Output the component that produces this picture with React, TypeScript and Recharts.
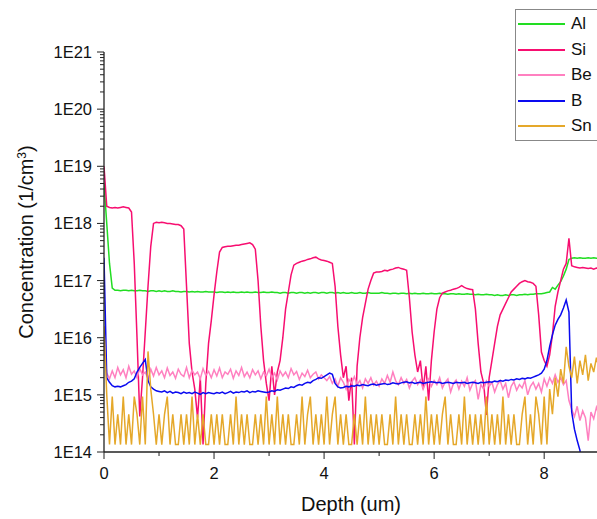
import { LineChart, Line, XAxis, YAxis } from "recharts";

// SIMS depth profile, values are log10(concentration), one point every 0.05 um
const STEP = 0.05;

const alLog = [
  18.7, 18.0, 17.3, 16.87, 16.83, 16.83, 16.82, 16.83, 16.83, 16.82, 16.83, 16.82, 16.82, 16.83, 16.82, 16.82, 16.81, 16.82, 16.82, 16.81,
  16.82, 16.81, 16.82, 16.81, 16.81, 16.82, 16.81, 16.81, 16.8, 16.81, 16.81, 16.8, 16.81, 16.8, 16.81, 16.8, 16.8, 16.81, 16.8, 16.8,
  16.8, 16.79, 16.8, 16.8, 16.79, 16.8, 16.79, 16.8, 16.79, 16.79, 16.8, 16.79, 16.8, 16.79, 16.79, 16.8, 16.79, 16.79, 16.8, 16.79,
  16.79, 16.8, 16.79, 16.79, 16.78, 16.79, 16.79, 16.78, 16.79, 16.79, 16.78, 16.79, 16.79, 16.78, 16.79, 16.78, 16.79, 16.79, 16.78, 16.79,
  16.79, 16.78, 16.79, 16.79, 16.78, 16.79, 16.78, 16.79, 16.78, 16.78, 16.79, 16.78, 16.78, 16.79, 16.78, 16.78, 16.79, 16.78, 16.78, 16.78,
  16.78, 16.79, 16.78, 16.78, 16.77, 16.78, 16.78, 16.77, 16.78, 16.78, 16.77, 16.78, 16.77, 16.78, 16.77, 16.77, 16.78, 16.77, 16.77, 16.78,
  16.77, 16.77, 16.78, 16.77, 16.77, 16.76, 16.77, 16.77, 16.76, 16.77, 16.76, 16.76, 16.77, 16.76, 16.76, 16.75, 16.76, 16.75, 16.75, 16.76,
  16.75, 16.75, 16.74, 16.75, 16.74, 16.74, 16.75, 16.74, 16.75, 16.75, 16.74, 16.75, 16.75, 16.76, 16.75, 16.76, 16.76, 16.77, 16.77, 16.77,
  16.78, 16.79, 16.8, 16.88, 16.85, 16.92, 16.98, 17.08, 17.2, 17.37, 17.39, 17.4, 17.39, 17.4, 17.39, 17.39, 17.4, 17.39, 17.4, 17.39, 17.39,
];

const siLog = [
  19.0, 18.3, 18.28, 18.27, 18.28, 18.27, 18.28, 18.29, 18.28, 18.27, 18.2, 17.3, 16.0, 14.62, 15.3, 16.1, 16.9, 17.6, 18.0, 18.02,
  18.01, 18.02, 18.01, 18.0, 18.0, 17.99, 17.98, 17.98, 17.96, 17.9, 16.9, 15.9, 15.4, 15.1, 14.6, 15.3, 14.13, 15.2, 15.9, 16.3,
  16.75, 17.15, 17.5, 17.58, 17.59, 17.6, 17.6, 17.61, 17.62, 17.62, 17.63, 17.64, 17.65, 17.66, 17.63, 17.55, 17.0, 16.2, 15.6, 15.2,
  14.9, 15.5, 15.0, 15.4, 15.6, 16.0, 16.5, 16.8, 17.1, 17.27, 17.3, 17.32, 17.34, 17.35, 17.37, 17.38, 17.4, 17.41, 17.38, 17.36,
  17.35, 17.34, 17.32, 17.3, 16.9, 16.2, 15.7, 15.3, 15.5, 14.9, 15.3, 14.13, 15.5, 16.0, 16.35, 16.6, 16.85, 17.0, 17.13, 17.15,
  17.15, 17.16, 17.18, 17.17, 17.19, 17.2, 17.22, 17.23, 17.21, 17.2, 17.18, 16.7, 16.1, 15.7, 15.4, 15.6, 15.1, 15.5, 14.9, 15.6,
  16.1, 16.5, 16.7, 16.78, 16.8, 16.82, 16.83, 16.85, 16.86, 16.88, 16.91, 16.88, 16.86, 16.85, 16.84, 16.5, 15.9, 15.4, 15.2, 14.65,
  15.3, 15.6, 15.9, 16.2, 16.4, 16.5, 16.6, 16.7, 16.8, 16.85, 16.9, 16.95, 16.98, 17.0, 16.98, 16.97, 16.95, 16.9, 16.4, 15.75,
  15.6, 15.5, 15.7, 16.05, 16.55, 16.8, 17.0, 17.2, 17.3, 17.74, 17.26, 17.24, 17.23, 17.22, 17.23, 17.22, 17.21, 17.22, 17.2, 17.22, 17.21,
];

const beLog = [
  15.84, 15.38, 15.28, 15.42, 15.3, 15.48, 15.35, 15.44, 15.3, 15.5, 15.36, 15.42, 15.3, 15.46, 15.35, 15.4, 15.28, 15.45, 15.33, 15.48,
  15.35, 15.42, 15.3, 15.47, 15.34, 15.4, 15.29, 15.45, 15.36, 15.32, 15.48, 15.3, 15.43, 15.35, 15.4, 15.28, 15.46, 15.34, 15.41, 15.3,
  15.44, 15.33, 15.47, 15.3, 15.4, 15.36, 15.45, 15.29, 15.42, 15.34, 15.48, 15.32, 15.4, 15.3, 15.44, 15.35, 15.42, 15.28, 15.4, 15.33,
  15.45, 15.3, 15.38, 15.26, 15.42, 15.33, 15.4, 15.3, 15.46, 15.35, 15.41, 15.27, 15.38, 15.32, 15.43, 15.3, 15.36, 15.4, 15.28, 15.35,
  15.3, 15.25, 15.32, 15.2, 15.28, 15.15, 15.3, 15.22, 15.1, 15.27, 15.2, 15.32, 15.18, 15.25, 15.12, 15.28, 15.2, 15.3, 15.17, 15.24,
  15.15, 15.28, 15.2, 15.34, 15.22, 15.4, 15.25, 15.18, 15.3, 15.2, 15.27, 15.12, 15.24, 15.3, 15.18, 15.26, 15.1, 15.22, 15.28, 15.15,
  15.25, 15.18, 15.3, 15.12, 15.22, 15.28, 15.05, 15.2, 15.26, 15.1, 15.24, 15.15, 15.3, 15.08, 15.2, 15.25, 14.92, 15.18, 15.1, 15.24,
  15.15, 15.22, 15.05, 15.18, 15.25, 15.1, 15.2, 14.95, 15.15, 15.23, 15.08, 15.18, 15.12, 15.25, 15.0, 15.15, 15.22, 15.1, 15.2, 15.05,
  15.28, 15.15, 15.3, 15.2, 15.35, 15.22, 15.3, 15.18, 15.25, 14.9, 14.75, 14.62, 14.8, 14.55, 14.72, 14.6, 14.2, 14.7, 14.58, 14.78, 14.65,
];

const bLog = [
  17.4, 15.3, 15.22, 15.16, 15.14, 15.15, 15.14, 15.16, 15.18, 15.22, 15.24, 15.28, 15.4, 15.48, 15.55, 15.62, 15.25, 15.14, 15.1, 15.07,
  15.06, 15.05, 15.07, 15.04, 15.06, 15.03, 15.05, 15.04, 15.02, 15.05, 15.03, 15.04, 15.02, 15.05, 15.03, 15.01, 15.04, 15.02, 15.04, 15.03,
  15.02, 15.04, 15.03, 15.05, 15.02, 15.04, 15.06, 15.03, 15.05, 15.04, 15.06, 15.05, 15.07, 15.04, 15.06, 15.05, 15.07, 15.06, 15.05, 15.04,
  15.05, 15.07, 15.06, 15.09, 15.08, 15.1, 15.12, 15.11, 15.14, 15.13, 15.16, 15.18, 15.17, 15.2, 15.22, 15.21, 15.25, 15.27, 15.3, 15.29,
  15.32, 15.35, 15.38, 15.36, 15.2, 15.14, 15.12, 15.13, 15.15, 15.14, 15.16, 15.15, 15.17, 15.16, 15.18, 15.17, 15.16, 15.18, 15.19, 15.17,
  15.18, 15.19, 15.2, 15.18, 15.19, 15.21, 15.2, 15.19, 15.21, 15.22, 15.23, 15.21, 15.22, 15.2, 15.21, 15.22, 15.2, 15.21, 15.22, 15.23,
  15.22, 15.21, 15.22, 15.2, 15.21, 15.22, 15.21, 15.2, 15.22, 15.21, 15.21, 15.22, 15.2, 15.21, 15.22, 15.21, 15.2, 15.22, 15.21, 15.22,
  15.23, 15.22, 15.24, 15.23, 15.25, 15.24, 15.26, 15.25, 15.27, 15.26, 15.28, 15.27, 15.29, 15.28, 15.3, 15.29, 15.31, 15.33, 15.35, 15.38,
  15.45, 15.6, 15.85, 16.05, 16.22, 16.32, 16.4, 16.52, 16.66, 16.45, 14.7, 14.4, 14.2, 14.03, 13.6, 13.5, 13.5, 13.5, 13.5, 13.5, 13.5,
];

const snLog = [
  16.2, 15.0, 14.13, 14.97, 14.13, 14.66, 14.13, 14.97, 14.13, 14.66, 14.13, 14.97, 14.66, 14.13, 14.97, 14.13, 15.76, 15.1, 14.66, 14.13,
  14.66, 14.13, 14.66, 14.97, 14.13, 14.66, 14.13, 14.13, 14.66, 14.13, 14.66, 14.13, 14.97, 14.13, 14.66, 14.13, 14.66, 14.13, 14.13, 14.66,
  14.13, 14.66, 14.13, 14.66, 14.13, 14.13, 14.66, 14.13, 14.97, 14.13, 14.66, 14.13, 14.66, 14.13, 14.13, 14.66, 14.13, 14.66, 14.13, 14.97,
  14.13, 14.66, 14.13, 14.97, 14.13, 14.66, 14.13, 14.66, 14.13, 14.13, 14.66, 14.13, 14.97, 14.13, 14.66, 14.97, 14.13, 14.66, 14.13, 14.66,
  14.13, 14.97, 14.13, 14.66, 14.97, 14.13, 14.66, 14.13, 14.66, 14.13, 14.13, 14.66, 14.13, 14.66, 14.13, 14.97, 14.13, 14.66, 14.13, 14.66,
  14.13, 14.66, 14.13, 14.13, 14.66, 14.13, 14.97, 14.13, 14.66, 14.13, 14.66, 14.13, 14.13, 14.66, 14.13, 14.66, 14.13, 14.97, 14.13, 14.66,
  14.13, 14.66, 14.13, 14.66, 14.97, 14.13, 14.66, 14.13, 14.13, 14.66, 14.13, 14.97, 14.13, 14.66, 14.13, 14.66, 14.13, 14.66, 14.13, 14.97,
  14.13, 14.66, 14.13, 14.66, 14.13, 14.97, 14.13, 14.66, 14.13, 14.66, 14.13, 14.13, 14.66, 14.97, 14.13, 14.66, 14.13, 14.97, 14.66, 14.13,
  14.97, 14.13, 15.1, 14.66, 15.3, 14.97, 15.45, 15.2, 15.84, 15.5, 15.3, 15.67, 15.2, 15.6, 15.35, 15.7, 15.25, 15.55, 15.4, 15.65, 15.45,
];

const xTicks = [0, 1, 2, 3, 4, 5, 6, 7, 8];
const decades = [14, 15, 16, 17, 18, 19, 20, 21];

const series = [
  { key: "Al", color: "#22DD22" },
  { key: "Si", color: "#F70E70" },
  { key: "Be", color: "#FF80C0" },
  { key: "B", color: "#0A0AF0" },
  { key: "Sn", color: "#E5A82A" },
];

const yTicks: number[] = [];
decades.forEach((e) => {
  if (e === 21) {
    yTicks.push(1e21);
    return;
  }
  for (let m = 1; m <= 9; m++) yTicks.push(m * Math.pow(10, e));
});

const rows = alLog.map((_, i) => ({
  depth: +(i * STEP).toFixed(2),
  Al: Math.pow(10, alLog[i]),
  Si: Math.pow(10, siLog[i]),
  Be: Math.pow(10, beLog[i]),
  B: Math.pow(10, bLog[i]),
  Sn: Math.pow(10, snLog[i]),
}));

const FONT = "'Liberation Sans', Arial, sans-serif";

const YTick = ({ x, y, payload }: any) => {
  const v = payload.value;
  const e = Math.round(Math.log10(v));
  const major = Math.abs(v - Math.pow(10, e)) < v * 1e-6;
  return (
    <g>
      <line x1={x} x2={x - (major ? 7 : 4)} y1={y} y2={y} stroke="#222" strokeWidth={1} />
      {major && (
        <text x={x - 12} y={y} dy="0.36em" textAnchor="end" fontSize={16.5} fontFamily={FONT} fill="#111">
          1E{e}
        </text>
      )}
    </g>
  );
};

const XTick = ({ x, y, payload }: any) => {
  const major = payload.value % 2 === 0;
  return (
    <g>
      <line x1={x} x2={x} y1={y} y2={y + (major ? 7 : 4)} stroke="#222" strokeWidth={1} />
      {major && (
        <text x={x} y={y + 27} textAnchor="middle" fontSize={16.5} fontFamily={FONT} fill="#111">
          {payload.value}
        </text>
      )}
    </g>
  );
};

export default function App() {
  return (
    <div style={{ position: "relative", width: 597, height: 519, overflow: "hidden", background: "#fff" }}>
      <style>{"body{margin:0}"}</style>
      <LineChart width={597} height={519} data={rows} margin={{ top: 52, right: 0, bottom: 0, left: 0 }}>
        <XAxis
          dataKey="depth"
          type="number"
          domain={[0, 8.96]}
          ticks={xTicks}
          interval={0}
          allowDataOverflow
          height={67}
          tickSize={0}
          tickMargin={0}
          tickLine={false}
          axisLine={{ stroke: "#222", strokeWidth: 1.3 }}
          tick={<XTick />}
        />
        <YAxis
          type="number"
          scale="log"
          domain={[1e14, 1e21]}
          ticks={yTicks}
          interval={0}
          allowDataOverflow
          width={104}
          tickSize={0}
          tickMargin={0}
          tickLine={false}
          axisLine={{ stroke: "#222", strokeWidth: 1.3 }}
          tick={<YTick />}
        />
        {series.map((s) => (
          <Line
            key={s.key}
            dataKey={s.key}
            type="linear"
            stroke={s.color}
            strokeWidth={1.5}
            dot={false}
            isAnimationActive={false}
          />
        ))}
      </LineChart>

      <div
        style={{
          position: "absolute",
          left: 0,
          top: 242,
          width: 44,
          height: 0,
          display: "flex",
          justifyContent: "center",
        }}
      >
        <div
          style={{
            transform: "rotate(-90deg)",
            whiteSpace: "nowrap",
            fontFamily: FONT,
            fontSize: 20,
            color: "#111",
            lineHeight: "0px",
          }}
        >
          Concentration (1/cm<sup style={{ fontSize: 12, verticalAlign: "7px" }}>3</sup>)
        </div>
      </div>

      <div
        style={{
          position: "absolute",
          left: 251,
          width: 200,
          top: 493,
          textAlign: "center",
          fontFamily: FONT,
          fontSize: 20,
          color: "#111",
        }}
      >
        Depth (um)
      </div>

      <div
        style={{
          position: "absolute",
          left: 515,
          top: 9,
          width: 100,
          height: 130,
          border: "1px solid #888",
          background: "#fff",
        }}
      >
        {series.map((s, i) => (
          <div
            key={s.key}
            style={{ position: "absolute", left: 2, top: 14 + i * 25.6 - 12, height: 24, display: "flex", alignItems: "center" }}
          >
            <div style={{ width: 47, height: 2, background: s.color }} />
            <span style={{ marginLeft: 6, fontFamily: FONT, fontSize: 17, color: "#111" }}>{s.key}</span>
          </div>
        ))}
      </div>
    </div>
  );
}
